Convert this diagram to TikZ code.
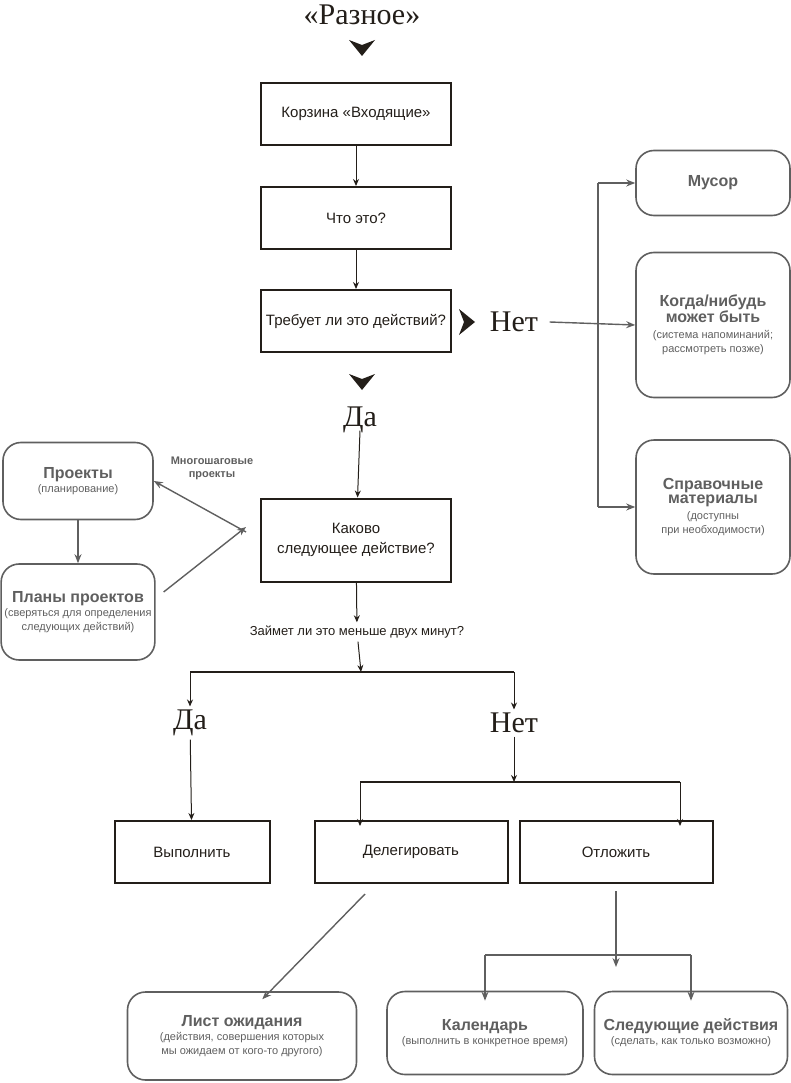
\documentclass[tikz,border=0pt]{standalone}
\usepackage{fontspec}
\setmainfont{Liberation Serif}
\newfontfamily\boxfont{Liberation Sans}
\usetikzlibrary{positioning,arrows.meta}
\definecolor{ink}{RGB}{35,30,25}
\definecolor{soft}{RGB}{95,95,95}
\tikzset{
  actbox/.style={draw=ink,line width=2pt,minimum width=190pt,minimum height=62pt,align=center,font=\boxfont\fontsize{15}{20}\selectfont,text=ink},
  store/.style={draw=soft,line width=1.6pt,rounded corners=18pt,align=center,font=\boxfont\fontsize{11}{14}\selectfont,text=soft},
  big/.style={font=\fontsize{30}{32}\selectfont,text=ink},
  arr/.style={-{Stealth[length=7pt,width=6pt]},line width=1pt,draw=ink},
  garr/.style={-{Stealth[length=9pt,width=7pt]},line width=1.4pt,draw=soft},
  small/.style={font=\boxfont\fontsize{11}{13}\selectfont}
}
\newcommand{\chev}[3]{\fill[ink,shift={(#1,#2)},rotate=#3] (-13,-8) -- (0,8) -- (13,-8) -- (0,-3) -- cycle;}
\newcommand{\ttl}[1]{{\fontsize{16}{19}\selectfont\textbf{#1}}}
\begin{document}
\begin{tikzpicture}[x=1pt,y=-1pt]
\useasboundingbox (0,0) rectangle (790,1083);

% главная колонка
\node[big] (misc) at (362,15) {«Разное»};
\chev{362}{48}{0}
\node[actbox] (inbox) at (356,114) {Корзина «Входящие»};
\node[actbox] (what) at (356,218) {Что это?};
\node[actbox] (act) at (356,321) {Требует ли это действий?};
\chev{467}{322}{90}
\node[big] (no1) at (514,322) {Нет};
\chev{362}{382}{0}
\node[big] (yes1) at (360,420) {Да};
\node[actbox,minimum height=83pt] (next) at (356,540) {Каково\\следующее действие?};
\node[text=ink,font=\boxfont\fontsize{13}{15}\selectfont] (two) at (357,632) {Займет ли это меньше двух минут?};

\draw[arr] (inbox) -- (what);
\draw[arr] (what) -- (act);
\draw[arr] ([yshift=6pt]yes1.south) -- (next);
\draw[arr] (next) -- (two);

% справа
\node[store,minimum width=154pt,minimum height=65pt] (trash) at (713,183) {\ttl{Мусор}};
\node[store,minimum width=154pt,minimum height=145pt] (maybe) at (713,325) {\ttl{Когда/нибудь}\\\ttl{может быть}\\[2pt](система напоминаний;\\рассмотреть позже)};
\node[store,minimum width=154pt,minimum height=134pt] (ref) at (713,507) {\ttl{Справочные}\\\ttl{материалы}\\[2pt](доступны\\при необходимости)};
\coordinate (fork) at (598,322);
\draw[garr] (no1.east) ++(8,0) -- (maybe.west);
\draw[soft,line width=1.4pt] (fork |- trash) -- (fork |- ref);
\draw[garr] (fork |- trash) -- (trash.west);
\draw[garr] (fork |- ref) -- (ref.west);

% проекты
\node[store,minimum width=150pt,minimum height=77pt] (proj) at (78,481) {\ttl{Проекты}\\(планирование)};
\node[store,minimum width=150pt,minimum height=96pt] (plans) at (78,612) {\ttl{Планы проектов}\\(сверяться для определения\\следующих действий)};
\node[small,text=soft,align=center] (multi) at (212,468) {\textbf{Многошаговые}\\\textbf{проекты}};
\draw[garr] (next.west) ++(-14,-8) -- (proj.east);
\draw[garr] (plans.east) ++(8,-20) -- ([xshift=-14pt,yshift=13pt]next.west);
\draw[garr] (proj) -- (plans);

% две минуты
\coordinate (split) at (361,672);
\node[big] (yes2) at (190,723) {Да};
\node[big] (no2) at (514,723) {Нет};
\draw[arr] (two) -- (split);
\draw[ink,line width=1.2pt] (yes2 |- split) -- (no2 |- split);
\draw[arr] (yes2 |- split) -- (yes2.north);
\draw[arr] (no2 |- split) -- (no2.north);

\node[actbox,minimum width=155pt] (do) at (192,852) {Выполнить};
\node[actbox,minimum width=193pt] (deleg) at (411,852) {Делегировать};
\node[actbox,minimum width=193pt] (defer) at (616,852) {Отложить};
\coordinate (split2) at (514,782);
\coordinate (dl) at (360,782);
\coordinate (dr) at (680,782);
\draw[arr] (yes2) -- (do);
\draw[arr] (no2) -- (split2);
\draw[ink,line width=1.2pt] (dl) -- (dr);
\draw[arr] (dl) -- ([yshift=-6pt]dl |- deleg.north);
\draw[arr] (dr) -- ([yshift=-6pt]dr |- defer.north);

% нижний ряд
\node[store,minimum width=229pt,minimum height=88pt] (wait) at (242,1036) {\ttl{Лист ожидания}\\(действия, совершения которых\\мы ожидаем от кого-то другого)};
\node[store,minimum width=196pt,minimum height=83pt] (cal) at (485,1033) {\ttl{Календарь}\\(выполнить в конкретное время)};
\node[store,minimum width=193pt,minimum height=83pt] (nexta) at (691,1033) {\ttl{Следующие действия}\\(сделать, как только возможно)};
\coordinate (split3) at (616,955);
\draw[garr] (deleg.south) ++(-46,10) -- ([xshift=-95pt,yshift=-8pt]wait.north east);
\draw[garr] (defer.south) ++(0,7) -- ([yshift=-12pt]split3);
\draw[soft,line width=1.4pt] (cal.north |- split3) -- (nexta.north |- split3);
\draw[garr] (cal.north |- split3) -- ([yshift=-10pt]cal.north);
\draw[garr] (nexta.north |- split3) -- ([yshift=-10pt]nexta.north);
\end{tikzpicture}
\end{document}
